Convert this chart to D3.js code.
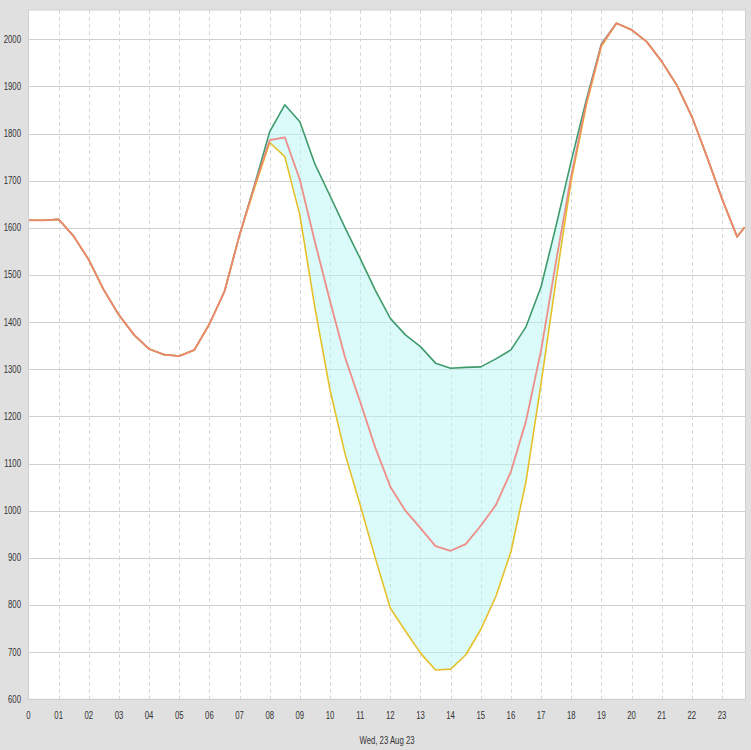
<!DOCTYPE html>
<html>
<head>
<meta charset="utf-8">
<script src="https://cdn.jsdelivr.net/npm/d3@7/dist/d3.min.js"></script>
<style>
  html, body { margin: 0; padding: 0; background: #e0e0e0; }
  svg { display: block; }
  text { font-family: "Liberation Sans", Arial, sans-serif; fill: #333; }
</style>
</head>
<body>
<svg id="chart" width="751" height="750"></svg>
<script>
// ---- data (hours of the day) ----
const hours = [0,0.5,1,1.5,2,2.5,3,3.5,4,4.5,5,5.5,6,6.5,7,7.5,8,8.5,9,9.5,10,10.5,11,11.5,12,12.5,13,13.5,14,14.5,15,15.5,16,16.5,17,17.5,18,18.5,19,19.5,20,20.5,21,21.5,22,22.5,23,23.5,23.75];

const mainSeries = [1616,1616,1618,1582,1532,1468,1415,1373,1343,1331,1328,1341,1396,1465,1585,1690,1786,1792,1702,1570,1445,1325,1231,1134,1051,1000,963,925,915,929,968,1012,1083,1190,1340,1530,1710,1865,1988,2034,2020,1995,1953,1903,1836,1751,1662,1581,1601];

const upperSeries = [1616,1616,1618,1582,1532,1468,1415,1373,1343,1331,1328,1341,1396,1465,1585,1692,1804,1861,1825,1735,1668,1600,1535,1468,1408,1373,1348,1313,1302,1304,1305,1322,1341,1390,1475,1605,1742,1871,1990,2034,2020,1995,1953,1903,1836,1751,1662,1581,1601];

const lowerSeries = [1616,1616,1618,1582,1532,1468,1415,1373,1343,1331,1328,1341,1396,1465,1585,1685,1781,1751,1627,1430,1256,1120,1012,900,793,745,698,662,664,694,748,818,913,1062,1270,1490,1700,1860,1985,2034,2020,1995,1953,1903,1836,1751,1662,1581,1601];

const yTicks = [600,700,800,900,1000,1100,1200,1300,1400,1500,1600,1700,1800,1900,2000];
const xTicks = [0,1,2,3,4,5,6,7,8,9,10,11,12,13,14,15,16,17,18,19,20,21,22,23];
const xTickLabels = ["0","01","02","03","04","05","06","07","08","09","10","11","12","13","14","15","16","17","18","19","20","21","22","23"];
const dateLabel = "Wed, 23 Aug 23";

// ---- layout ----
const svg = d3.select("#chart");
const pL = 28.5, pR = 745.5, pT = 10, pB = 699.3;
const squeeze = 0.74; // condensed look of the labels

const x = d3.scaleLinear().domain([0, 23.78]).range([pL, pR]);
const y = d3.scaleLinear().domain([600, 2062]).range([pB, pT]);

// plot background
svg.append("rect").attr("x", pL).attr("y", pT)
  .attr("width", pR - pL).attr("height", pB - pT)
  .attr("fill", "#ffffff");

// horizontal gridlines
svg.append("g").selectAll("line").data(yTicks).join("line")
  .attr("x1", pL).attr("x2", pR)
  .attr("y1", d => Math.round(y(d)) + 0.5).attr("y2", d => Math.round(y(d)) + 0.5)
  .attr("stroke", "#d0d0d0").attr("stroke-width", 1);

// vertical dashed gridlines
svg.append("g").selectAll("line").data(xTicks.filter(d => d > 0)).join("line")
  .attr("x1", d => Math.round(x(d)) + 0.5).attr("x2", d => Math.round(x(d)) + 0.5)
  .attr("y1", pT).attr("y2", pB)
  .attr("stroke", "#d8d8d8").attr("stroke-width", 1)
  .attr("stroke-dasharray", "4,3");

const pts = hours.map((h, i) => ({h, m: mainSeries[i], u: upperSeries[i], l: lowerSeries[i]}));

// clip
svg.append("clipPath").attr("id", "clip").append("rect")
  .attr("x", pL).attr("y", pT).attr("width", pR - pL).attr("height", pB - pT);
const g = svg.append("g").attr("clip-path", "url(#clip)");

// band
g.append("path").datum(pts)
  .attr("d", d3.area().x(d => x(d.h)).y0(d => y(d.l)).y1(d => y(d.u)))
  .attr("fill", "#b8f6f6").attr("fill-opacity", 0.5);

// lines
const line = key => d3.line().x(d => x(d.h)).y(d => y(d[key]));
g.append("path").datum(pts).attr("d", line("u"))
  .attr("fill", "none").attr("stroke", "#3f9a6c").attr("stroke-width", 1.6).attr("stroke-linejoin", "round");
g.append("path").datum(pts).attr("d", line("l"))
  .attr("fill", "none").attr("stroke", "#e6c028").attr("stroke-width", 1.6).attr("stroke-linejoin", "round");
g.append("path").datum(pts).attr("d", line("m"))
  .attr("fill", "none").attr("stroke", "#f07e78").attr("stroke-width", 1.8).attr("stroke-linejoin", "round")
  .attr("stroke-opacity", 0.88);

// plot border
svg.append("rect").attr("x", pL).attr("y", pT)
  .attr("width", pR - pL).attr("height", pB - pT)
  .attr("fill", "none").attr("stroke", "#cfcfcf").attr("stroke-width", 1);

// y axis labels
svg.append("g").selectAll("text").data(yTicks).join("text")
  .attr("transform", d => `translate(21,${y(d)}) scale(${squeeze},1)`)
  .attr("text-anchor", "end").attr("dominant-baseline", "central")
  .attr("font-size", 10.5)
  .text(d => d);

// x axis labels
svg.append("g").selectAll("text").data(xTicks).join("text")
  .attr("transform", d => `translate(${x(d)},716) scale(${squeeze},1)`)
  .attr("text-anchor", "middle").attr("dominant-baseline", "central")
  .attr("font-size", 10.5)
  .text((d, i) => xTickLabels[i]);

// date label
svg.append("text")
  .attr("transform", `translate(${(pL + pR) / 2},741) scale(${squeeze},1)`)
  .attr("text-anchor", "middle").attr("dominant-baseline", "central")
  .attr("font-size", 10.5)
  .text(dateLabel);
</script>
</body>
</html>
